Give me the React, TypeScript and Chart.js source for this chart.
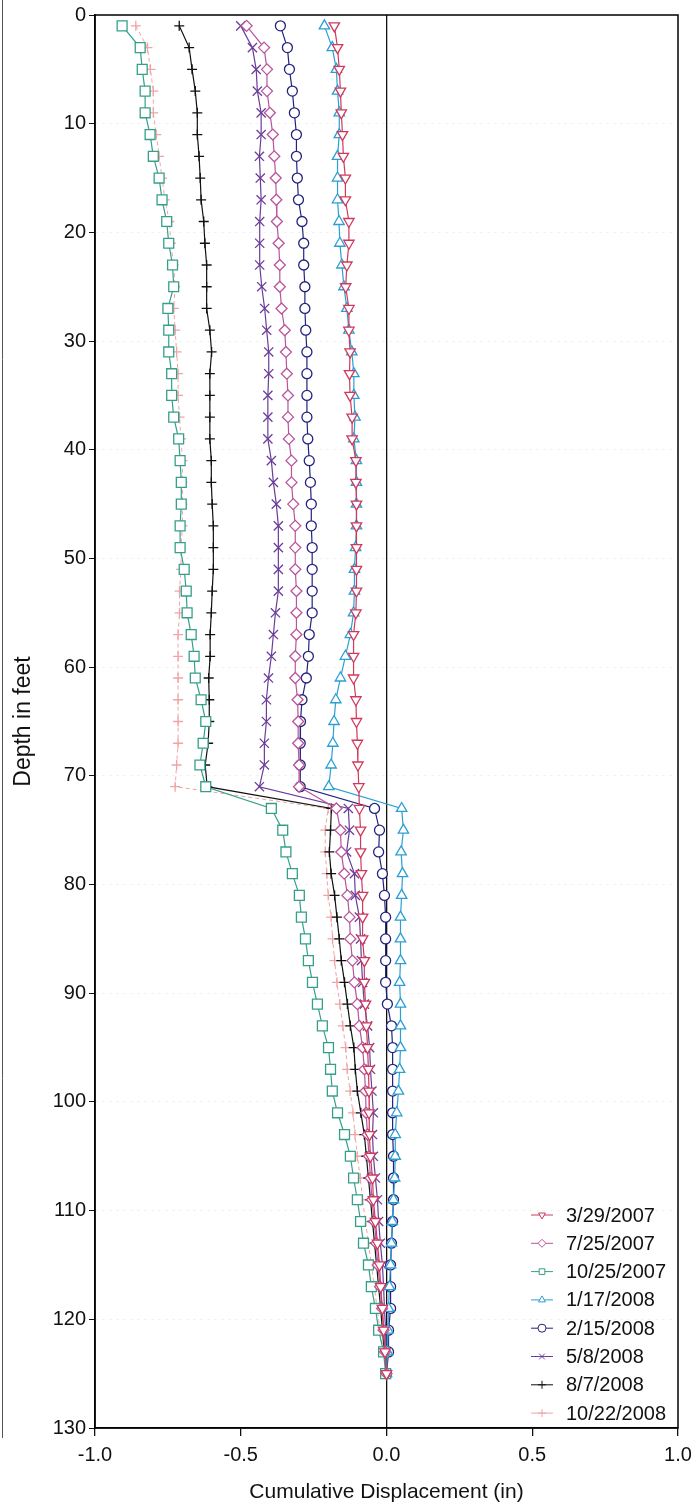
import React, { useEffect, useRef } from 'react';
import { Chart, registerables } from 'chart.js';
import { drawPoint } from 'chart.js/helpers';

Chart.register(...registerables);

// Depth below top of casing (ft)
const depths = [
  1, 3, 5, 7, 9, 11, 13, 15, 17, 19, 21, 23, 25, 27, 29, 31, 33, 35, 37, 39, 41,
  43, 45, 47, 49, 51, 53, 55, 57, 59, 61, 63, 65, 67, 69, 71, 73, 75, 77, 79, 81,
  83, 85, 87, 89, 91, 93, 95, 97, 99, 101, 103, 105, 107, 109, 111, 113, 115,
  117, 119, 121, 123, 125,
];

const seriesLabels = [
  '3/29/2007', '7/25/2007', '10/25/2007', '1/17/2008',
  '2/15/2008', '5/8/2008', '8/7/2008', '10/22/2008',
];

const disp20070329 = [
  -0.179, -0.168, -0.162, -0.158, -0.155, -0.151, -0.148, -0.141, -0.141, -0.129, -0.129, -0.136,
  -0.14, -0.129, -0.129, -0.125, -0.127, -0.125, -0.118, -0.118, -0.105, -0.105, -0.103, -0.103,
  -0.103, -0.103, -0.103, -0.105, -0.113, -0.113, -0.113, -0.105, -0.103, -0.1, -0.098, -0.095,
  -0.093, -0.089, -0.089, -0.086, -0.082, -0.082, -0.082, -0.076, -0.076, -0.072, -0.069, -0.065,
  -0.062, -0.06, -0.06, -0.058, -0.055, -0.048, -0.045, -0.038, -0.031, -0.024, -0.02, -0.014,
  -0.01, -0.005, 0,
];
const disp20070725 = [
  -0.48, -0.42, -0.41, -0.41, -0.4, -0.39, -0.385, -0.38, -0.378, -0.376, -0.37, -0.366,
  -0.366, -0.36, -0.349, -0.345, -0.342, -0.338, -0.338, -0.335, -0.326, -0.326, -0.32, -0.313,
  -0.313, -0.313, -0.309, -0.309, -0.309, -0.313, -0.313, -0.305, -0.303, -0.303, -0.3, -0.3,
  -0.172, -0.158, -0.155, -0.145, -0.134, -0.127, -0.124, -0.117, -0.11, -0.1, -0.093, -0.082,
  -0.076, -0.072, -0.07, -0.065, -0.06, -0.055, -0.05, -0.042, -0.035, -0.03, -0.022, -0.015,
  -0.01, -0.005, 0,
];
const disp20071025 = [
  -0.907, -0.845, -0.838, -0.828, -0.828, -0.811, -0.8, -0.78, -0.77, -0.754, -0.747, -0.734,
  -0.73, -0.75, -0.747, -0.747, -0.737, -0.737, -0.73, -0.713, -0.708, -0.704, -0.704, -0.708,
  -0.708, -0.694, -0.687, -0.684, -0.67, -0.66, -0.656, -0.636, -0.62, -0.629, -0.64, -0.62,
  -0.395, -0.356, -0.345, -0.323, -0.299, -0.292, -0.278, -0.268, -0.254, -0.237, -0.22, -0.199,
  -0.192, -0.186, -0.168, -0.144, -0.124, -0.113, -0.1, -0.089, -0.079, -0.062, -0.052, -0.038,
  -0.027, -0.01, -0.003,
];
const disp20080117 = [
  -0.213, -0.186, -0.172, -0.168, -0.162, -0.162, -0.168, -0.168, -0.168, -0.163, -0.16, -0.153,
  -0.146, -0.136, -0.129, -0.119, -0.112, -0.112, -0.108, -0.112, -0.103, -0.103, -0.103, -0.103,
  -0.106, -0.11, -0.11, -0.113, -0.124, -0.141, -0.158, -0.174, -0.18, -0.184, -0.19, -0.198,
  0.052, 0.058, 0.05, 0.055, 0.052, 0.048, 0.048, 0.048, 0.045, 0.048, 0.048, 0.048,
  0.045, 0.041, 0.035, 0.03, 0.03, 0.028, 0.024, 0.02, 0.017, 0.014, 0.01, 0.007,
  0.005, 0.003, 0,
];
const disp20080215 = [
  -0.364, -0.34, -0.333, -0.323, -0.316, -0.309, -0.309, -0.306, -0.302, -0.29, -0.284, -0.284,
  -0.28, -0.28, -0.277, -0.273, -0.273, -0.273, -0.273, -0.27, -0.265, -0.261, -0.258, -0.258,
  -0.255, -0.255, -0.255, -0.255, -0.265, -0.268, -0.275, -0.29, -0.295, -0.296, -0.296, -0.296,
  -0.041, -0.024, -0.027, -0.014, -0.007, -0.003, -0.003, -0.003, -0.003, 0.003, 0.017, 0.021,
  0.021, 0.021, 0.021, 0.021, 0.024, 0.024, 0.024, 0.021, 0.017, 0.014, 0.014, 0.014,
  0.007, 0.007, 0,
];
const disp20080508 = [
  -0.5, -0.46, -0.447, -0.443, -0.43, -0.43, -0.436, -0.433, -0.43, -0.435, -0.435, -0.435,
  -0.428, -0.418, -0.411, -0.404, -0.404, -0.407, -0.407, -0.407, -0.395, -0.388, -0.378, -0.371,
  -0.371, -0.371, -0.371, -0.381, -0.388, -0.395, -0.405, -0.412, -0.412, -0.419, -0.419, -0.436,
  -0.131, -0.127, -0.137, -0.11, -0.107, -0.093, -0.089, -0.086, -0.082, -0.076, -0.065, -0.058,
  -0.055, -0.05, -0.045, -0.048, -0.045, -0.038, -0.031, -0.027, -0.021, -0.014, -0.01, -0.007,
  -0.003, -0.002, 0,
];
const disp20080807 = [
  -0.711, -0.677, -0.667, -0.656, -0.649, -0.649, -0.643, -0.639, -0.636, -0.627, -0.623, -0.617,
  -0.617, -0.617, -0.606, -0.6, -0.606, -0.606, -0.606, -0.606, -0.601, -0.601, -0.598, -0.594,
  -0.594, -0.594, -0.598, -0.601, -0.605, -0.605, -0.61, -0.608, -0.608, -0.612, -0.622, -0.615,
  -0.189, -0.192, -0.196, -0.19, -0.178, -0.17, -0.162, -0.155, -0.144, -0.134, -0.124, -0.112,
  -0.107, -0.1, -0.088, -0.076, -0.069, -0.062, -0.055, -0.048, -0.041, -0.034, -0.027, -0.02,
  -0.014, -0.007, 0,
];
const disp20081022 = [
  -0.86, -0.82, -0.81, -0.8, -0.8, -0.79, -0.78, -0.77, -0.76, -0.745, -0.74, -0.73,
  -0.725, -0.73, -0.725, -0.72, -0.715, -0.715, -0.71, -0.705, -0.7, -0.7, -0.7, -0.7,
  -0.705, -0.705, -0.71, -0.71, -0.715, -0.715, -0.715, -0.715, -0.715, -0.715, -0.72, -0.725,
  -0.2, -0.21, -0.21, -0.205, -0.2, -0.19, -0.185, -0.178, -0.17, -0.16, -0.15, -0.14,
  -0.135, -0.125, -0.115, -0.108, -0.1, -0.09, -0.082, -0.072, -0.062, -0.052, -0.042, -0.032,
  -0.022, -0.01, 0,
];

const seriesValues = [
  disp20070329, disp20070725, disp20071025, disp20080117,
  disp20080215, disp20080508, disp20080807, disp20081022,
];

const xTicks = [-1.0, -0.5, 0.0, 0.5, 1.0];
const yTicks = [0, 10, 20, 30, 40, 50, 60, 70, 80, 90, 100, 110, 120, 130];

// styling (not data)
const colors = ['#cf3a5c', '#b9559c', '#35a08a', '#2b9fd4', '#23237f', '#6a3d9a', '#111111', '#f0a4a4'];
const pStyles = ['triangle', 'rectRot', 'rect', 'triangle', 'circle', 'crossRot', 'cross', 'cross'];
const pRotations = [180, 0, 0, 0, 0, 0, 0, 0];
const pRadius = [6, 5.5, 7, 6, 5, 6.5, 5, 5];
const dashes = [[], [], [], [], [], [], [], [4, 3]];

const FONT = '"Liberation Sans", Arial, sans-serif';

const frameLegendPlugin = {
  id: 'frameLegend',
  afterDraw(chart: any) {
    const { ctx, chartArea } = chart;
    ctx.save();
    // frame
    ctx.strokeStyle = '#000';
    ctx.lineWidth = 1.5;
    ctx.setLineDash([]);
    ctx.strokeRect(chartArea.left, chartArea.top, chartArea.right - chartArea.left, chartArea.bottom - chartArea.top);
    // scan edge line at far left
    ctx.strokeStyle = '#555';
    ctx.lineWidth = 1;
    ctx.beginPath();
    ctx.moveTo(2.5, 0);
    ctx.lineTo(2.5, 1438);
    ctx.stroke();
    // legend
    const top = 1215;
    const step = 28.3;
    chart.data.datasets.forEach((ds: any, i: number) => {
      const y = top + i * step;
      ctx.strokeStyle = ds.borderColor;
      ctx.lineWidth = 1;
      ctx.setLineDash([]);
      ctx.beginPath();
      ctx.moveTo(531, y);
      ctx.lineTo(553, y);
      ctx.stroke();
      ctx.fillStyle = '#fff';
      ctx.strokeStyle = ds.borderColor;
      drawPoint(ctx, { pointStyle: ds.pointStyle, rotation: ds.pointRotation || 0, radius: 4, borderWidth: 1 } as any, 542, y);
      ctx.fillStyle = '#111';
      ctx.font = '20px ' + FONT;
      ctx.textBaseline = 'middle';
      ctx.textAlign = 'left';
      ctx.fillText(ds.label, 566, y + 1);
    });
    ctx.restore();
  },
};

function DepthChart() {
  const ref = useRef<HTMLCanvasElement | null>(null);
  useEffect(() => {
    if (!ref.current) return;
    const datasets = seriesLabels.map((label, i) => ({
      label,
      data: depths.map((d, j) => ({ x: seriesValues[i][j], y: d })),
      showLine: true,
      borderColor: colors[i],
      backgroundColor: colors[i],
      borderWidth: i === 7 ? 1 : 1.2,
      borderDash: dashes[i],
      pointStyle: pStyles[i],
      pointRotation: pRotations[i],
      pointRadius: pRadius[i],
      pointBorderWidth: 1.3,
      pointBackgroundColor: '#fff',
      pointBorderColor: colors[i],
      tension: 0,
    }));
    const chart = new Chart(ref.current, {
      type: 'scatter',
      data: { datasets },
      plugins: [frameLegendPlugin],
      options: {
        animation: false,
        responsive: false,
        devicePixelRatio: 1,
        layout: { padding: { top: 13, right: 21, left: 0, bottom: 0 } },
        plugins: { legend: { display: false }, tooltip: { enabled: false } },
        scales: {
          x: {
            type: 'linear',
            min: -1,
            max: 1,
            afterFit: (s: any) => { s.height = 81; },
            afterBuildTicks: (s: any) => { s.ticks = xTicks.map((v) => ({ value: v })); },
            ticks: {
              color: '#111',
              font: { size: 20, family: FONT },
              padding: 7,
              callback: (v: any) => Number(v).toFixed(1),
            },
            grid: {
              color: (c: any) => (c.tick && c.tick.value === 0 ? '#111' : 'rgba(0,0,0,0)'),
              lineWidth: 1.3,
              tickColor: '#111',
              tickLength: 8,
              drawTicks: true,
            },
            border: { color: '#000', width: 1.5 },
            title: {
              display: true,
              text: 'Cumulative Displacement (in)',
              color: '#111',
              font: { size: 21, family: FONT },
              padding: { top: 0, bottom: 4 },
            },
          },
          y: {
            type: 'linear',
            reverse: true,
            min: 0,
            max: 130,
            afterFit: (s: any) => { s.width = 95; },
            afterBuildTicks: (s: any) => { s.ticks = yTicks.map((v) => ({ value: v })); },
            ticks: {
              color: '#111',
              font: { size: 20, family: FONT },
              padding: 3,
            },
            grid: {
              color: 'rgba(0,0,0,0.07)',
              lineWidth: 1,
              tickColor: '#111',
              tickLength: 6,
            },
            border: { color: '#000', width: 1.5, dash: [2, 5] },
            title: {
              display: true,
              text: 'Depth in feet',
              color: '#111',
              font: { size: 23, family: FONT },
              padding: { top: 10, bottom: 0 },
            },
          },
        },
      } as any,
    });
    return () => chart.destroy();
  }, []);
  return (
    <div style={{ position: 'absolute', left: 0, top: 0, width: 699, height: 1509, background: '#fff' }}>
      <canvas ref={ref} width={699} height={1509} style={{ display: 'block' }} />
    </div>
  );
}

export default function App() {
  return <DepthChart />;
}
